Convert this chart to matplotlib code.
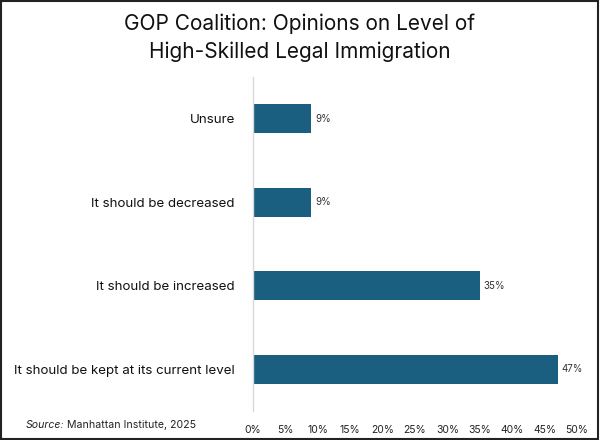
import matplotlib
matplotlib.use("Agg")
import matplotlib.pyplot as plt
from matplotlib.patches import Rectangle

categories = ["It should be kept at its current level", "It should be increased",
              "It should be decreased", "Unsure"]
values = [47, 35, 9, 9]
xticks = [0, 5, 10, 15, 20, 25, 30, 35, 40, 45, 50]

plt.rcParams['font.family'] = ['Inter', 'DejaVu Sans']

fig = plt.figure(figsize=(6, 4.4), dpi=100)
ax = fig.add_axes([0.4217, 0.066, 0.54, 0.759])

y = list(range(len(categories)))
bars = ax.barh(y, values, height=0.35, color="#1a5e80")
for yi, v in zip(y, values):
    ax.text(v + 0.6, yi, f"{v}%", va="center", ha="left", fontsize=7, color="#333333")

ax.set_ylim(-0.5, 3.5)
ax.set_xlim(0, 50)
ax.set_yticks(y)
ax.set_yticklabels(categories, fontsize=9.6, color="#111111")
ax.set_xticks(xticks)
ax.set_xticklabels([f"{t}%" for t in xticks], fontsize=7.5, color="#222222")
ax.tick_params(axis="both", length=0)
ax.tick_params(axis="x", pad=10)
ax.tick_params(axis="y", pad=13)
for s in ["top", "right", "bottom"]:
    ax.spines[s].set_visible(False)
ax.spines["left"].set_color("#d9d9d9")
ax.spines["left"].set_linewidth(1)

fig.text(0.5, 0.915, "GOP Coalition: Opinions on Level of\nHigh-Skilled Legal Immigration",
         ha="center", va="center", fontsize=15, color="#111111", linespacing=1.45)

t1 = fig.text(0.043, 0.033, "Source:", ha="left", va="center", fontsize=7.6,
              style="italic", color="#222222")
fig.canvas.draw()
bb = t1.get_window_extent()
x2 = bb.x1 / fig.bbox.width
fig.text(x2, 0.033, " Manhattan Institute, 2025", ha="left", va="center",
         fontsize=7.6, color="#222222")

fig.patches.append(Rectangle((0.002, 0.003), 0.995, 0.994, transform=fig.transFigure,
                             fill=False, edgecolor="#222222", linewidth=1.5))

fig.savefig("out.png", dpi=100)
